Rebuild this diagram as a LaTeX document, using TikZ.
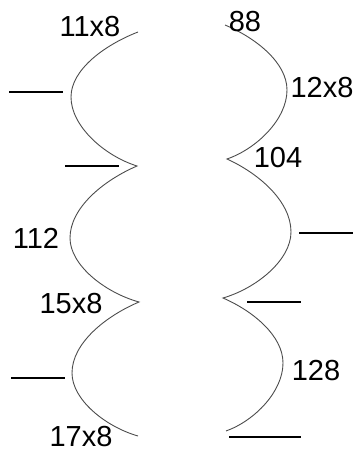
\documentclass[tikz,border=0pt]{standalone}
\usepackage{fontspec}
\setmainfont{Liberation Sans}
\begin{document}
\begin{tikzpicture}[x=1pt,y=-1pt,
  wave/.style={draw=black!70,line width=0.9pt},
  tick/.style={draw=black,line width=1.6pt},
  lab/.style={font=\fontsize{29}{29}\selectfont,inner sep=0pt,anchor=center}]
\useasboundingbox (0,0) rectangle (356,452);
% left wave
\coordinate (L0) at (138,32);
\coordinate (L1) at (71,97);
\coordinate (L2) at (137,166);
\coordinate (L3) at (70,238);
\coordinate (L4) at (139,302);
\coordinate (L5) at (72,373);
\coordinate (L6) at (138,436);
\draw[wave] (L0) .. controls (104.5,45) and (71,69.7) .. (L1)
  .. controls (71,126) and (104,155.6) .. (L2)
  .. controls (103.5,180.4) and (70,207.8) .. (L3)
  .. controls (70,264.9) and (104.5,292.4) .. (L4)
  .. controls (105.5,316.2) and (72,343.2) .. (L5)
  .. controls (72,399.5) and (105,426.5) .. (L6);
% right wave
\coordinate (R0) at (225,25);
\coordinate (R1) at (287,90);
\coordinate (R2) at (227,159);
\coordinate (R3) at (291,232);
\coordinate (R4) at (223,298);
\coordinate (R5) at (283,363);
\coordinate (R6) at (226,431);
\draw[wave] (R0) .. controls (256,38) and (287,62.7) .. (R1)
  .. controls (287,119) and (257,148.6) .. (R2)
  .. controls (259,173.6) and (291,201.3) .. (R3)
  .. controls (291,259.7) and (257,288.1) .. (R4)
  .. controls (253,311) and (283,335.7) .. (R5)
  .. controls (283,391.6) and (254.5,420.8) .. (R6);
% ticks
\coordinate (t1a) at (9,92);   \coordinate (t1b) at (63,92);
\coordinate (t2a) at (65,166); \coordinate (t2b) at (119,166);
\coordinate (t3a) at (11,378); \coordinate (t3b) at (65,378);
\coordinate (t4a) at (299,233);\coordinate (t4b) at (353,233);
\coordinate (t5a) at (247,302);\coordinate (t5b) at (301,302);
\coordinate (t6a) at (229,437);\coordinate (t6b) at (301,437);
\draw[tick] (t1a) -- (t1b);
\draw[tick] (t2a) -- (t2b);
\draw[tick] (t3a) -- (t3b);
\draw[tick] (t4a) -- (t4b);
\draw[tick] (t5a) -- (t5b);
\draw[tick] (t6a) -- (t6b);
% labels
\node[lab] (a) at (90,27) {11x8};
\node[lab] (b) at (245,22) {88};
\node[lab] (c) at (322,88) {12x8};
\node[lab] (d) at (278,158) {104};
\node[lab] (e) at (36,238) {112};
\node[lab] (f) at (71,304) {15x8};
\node[lab] (g) at (81,437) {17x8};
\node[lab] (h) at (316,371) {128};
\end{tikzpicture}
\end{document}
